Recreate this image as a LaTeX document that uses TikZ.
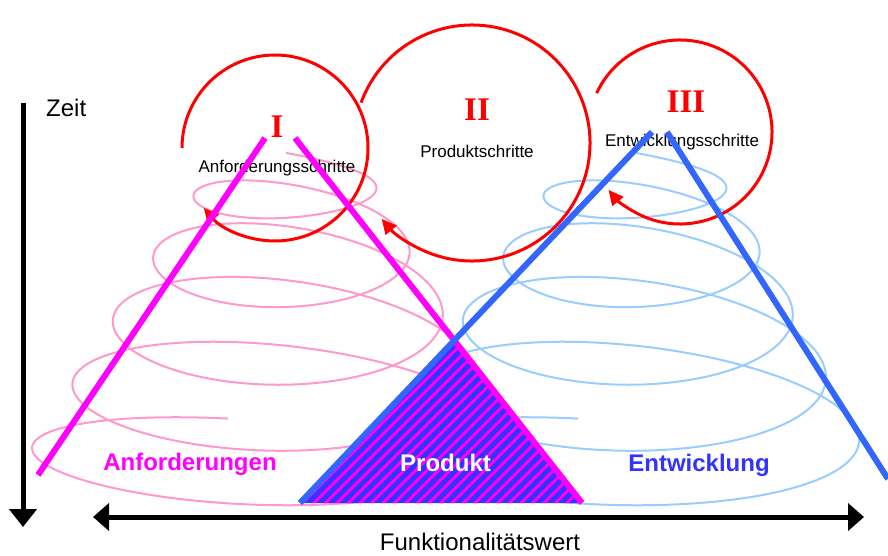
\documentclass[tikz,border=0pt]{standalone}
\usepackage{fontspec}
\setmainfont{Liberation Sans}
\newfontfamily\numfont{Liberation Serif}
\usetikzlibrary{arrows.meta}

\definecolor{cred}{HTML}{FF0000}
\definecolor{cmag}{HTML}{FF00FF}
\definecolor{cblue}{HTML}{3366FF}
\definecolor{cprod}{HTML}{3333FF}
\definecolor{cpink}{HTML}{FF99CC}
\definecolor{csky}{HTML}{99CCFF}

\begin{document}
\begin{tikzpicture}[x=1pt,y=-1pt,
  ring/.style={draw=cred, line width=3pt, -{Triangle[length=15pt,width=14pt]}},
  edgeline/.style={line width=6pt},
  axisline/.style={line width=5pt, draw=black},
  numeral/.style={text=cred, font=\numfont\bfseries\fontsize{33}{33}\selectfont, inner sep=0pt, anchor=base},
  stepnote/.style={font=\fontsize{17}{17}\selectfont, inner sep=0pt, anchor=base},
  biglabel/.style={font=\bfseries\fontsize{24}{24}\selectfont, inner sep=0pt, anchor=base},
]
\useasboundingbox (0,0) rectangle (888,556);

% conical helices: requirements (pink) and development (light blue);
% the descent happens on the back strand, the front strand stays level,
% and the right-hand side of the upper turns bulges a little further out
\foreach \dx/\col in {0/cpink,350/csky}{
  \draw[\col, line width=2pt, xshift=\dx pt]
    plot[domain=0:0.994, samples=800, variable=\u]
    ({286-8*\u + (62+194*\u)*cos(90-1800*\u)
        + (20-20*\u)*cos(90-1800*\u)*(1+cos(90-1800*\u))/2},
     {176.6 + 10*((1800*\u-90)*0.0174533 + cos(1800*\u-90))
        - (8+190*\u-145*\u*\u)*sin(90-1800*\u)});
}

% step circles
\coordinate (c1) at (275,148);
\coordinate (c2) at (472,143);
\coordinate (c3) at (680,132);
\draw[ring] (c1) ++(180:93pt) arc[start angle=180, end angle=-140, radius=93pt];
\draw[ring] (c2) ++(160:118pt) arc[start angle=160, end angle=-140, radius=118pt];
\draw[ring] (c3) ++(155:92pt) arc[start angle=155, end angle=-141, radius=92pt];

\node[numeral] (n1) at (277,138) {I};
\node[numeral] (n2) at (477,121) {II};
\node[numeral] (n3) at (686,113) {III};
\node[stepnote] (s1) at (277,173) {Anforderungsschritte};
\node[stepnote] (s2) at (477,158) {Produktschritte};
\node[stepnote] (s3) at (682,147) {Entwicklungsschritte};

% product triangle with stripes
\coordinate (apex) at (454,340.5);
\coordinate (tbl) at (300,503);
\coordinate (tbr) at (582,503);
\fill[cprod] (apex) -- (tbl) -- (tbr) -- cycle;
\begin{scope}
  \clip (apex) -- (tbl) -- (tbr) -- cycle;
  \foreach \k in {0,...,50}
    \draw[cmag, line width=3pt] (100+\k*11.5,510) -- ++(260,-260);
\end{scope}

% cone edges
\coordinate (mlTop) at (265,138);
\coordinate (mlBot) at (38,475);
\coordinate (mrTop) at (295,138);
\coordinate (blTop) at (652,132);
\coordinate (brTop) at (667,132);
\coordinate (brBot) at (888,479);
\draw[edgeline, cmag] (mlTop) -- (mlBot);
\draw[edgeline, cmag] (mrTop) -- (tbr);
\draw[edgeline, cblue] (tbl) -- (blTop);
\draw[edgeline, cblue] (brTop) -- (brBot);

% labels
\node[biglabel, text=cmag] (lA) at (190,470) {Anforderungen};
\node[biglabel, text=white] (lP) at (445.5,471) {Produkt};
\node[biglabel, text=cprod] (lE) at (699,471) {Entwicklung};

% axes
\coordinate (zTop) at (23,103);
\coordinate (zBot) at (23,527);
\draw[axisline, -{Triangle[length=18pt,width=27pt]}] (zTop) -- (zBot);
\node[font=\fontsize{24}{24}\selectfont, inner sep=0pt, anchor=base west] (zt) at (46,117) {Zeit};

\coordinate (fL) at (93,517);
\coordinate (fR) at (864,517);
\draw[axisline, {Triangle[length=16pt,width=27pt]}-{Triangle[length=16pt,width=27pt]}] (fL) -- (fR);
\node[font=\fontsize{24}{24}\selectfont, inner sep=0pt, anchor=base] (ft) at (480,550) {Funktionalitätswert};
\end{tikzpicture}
\end{document}
